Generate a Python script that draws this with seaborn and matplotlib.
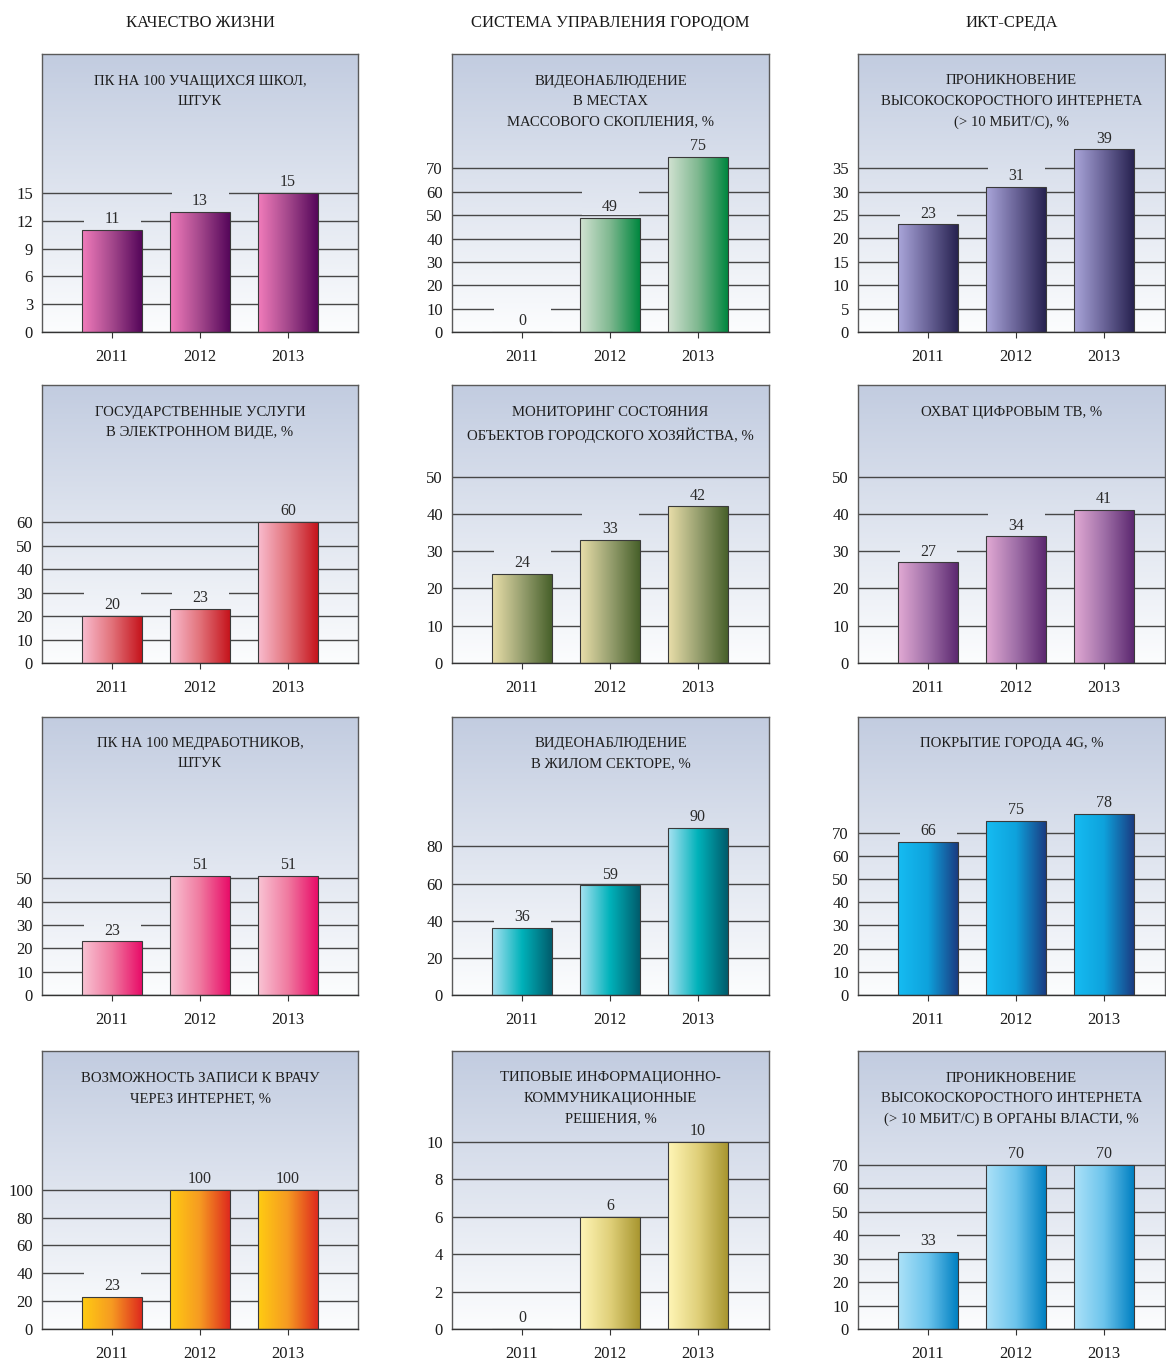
"""
Городские показатели 2011-2013: двенадцать столбчатых панелей в три колонки.
"""

import numpy as np
import matplotlib
matplotlib.use('Agg')
import matplotlib.pyplot as plt
from matplotlib.colors import LinearSegmentedColormap
from matplotlib.patches import Rectangle
import seaborn as sns

sns.set_style('white')
plt.rcParams['font.family'] = ['Liberation Serif', 'DejaVu Serif']

# ── data ──
YEARS = ['2011', '2012', '2013']

COLUMN_HEADERS = ['КАЧЕСТВО ЖИЗНИ', 'СИСТЕМА УПРАВЛЕНИЯ ГОРОДОМ', 'ИКТ-СРЕДА']

TITLES = [
    'ПК НА 100 УЧАЩИХСЯ ШКОЛ,\nШТУК',
    'ВИДЕОНАБЛЮДЕНИЕ\nВ МЕСТАХ\nМАССОВОГО СКОПЛЕНИЯ, %',
    'ПРОНИКНОВЕНИЕ\nВЫСОКОСКОРОСТНОГО ИНТЕРНЕТА\n(> 10 МБИТ/С), %',
    'ГОСУДАРСТВЕННЫЕ УСЛУГИ\nВ ЭЛЕКТРОННОМ ВИДЕ, %',
    'МОНИТОРИНГ СОСТОЯНИЯ\nОБЪЕКТОВ ГОРОДСКОГО ХОЗЯЙСТВА, %',
    'ОХВАТ ЦИФРОВЫМ ТВ, %',
    'ПК НА 100 МЕДРАБОТНИКОВ,\nШТУК',
    'ВИДЕОНАБЛЮДЕНИЕ\nВ ЖИЛОМ СЕКТОРЕ, %',
    'ПОКРЫТИЕ ГОРОДА 4G, %',
    'ВОЗМОЖНОСТЬ ЗАПИСИ К ВРАЧУ\nЧЕРЕЗ ИНТЕРНЕТ, %',
    'ТИПОВЫЕ ИНФОРМАЦИОННО-\nКОММУНИКАЦИОННЫЕ\nРЕШЕНИЯ, %',
    'ПРОНИКНОВЕНИЕ\nВЫСОКОСКОРОСТНОГО ИНТЕРНЕТА\n(> 10 МБИТ/С) В ОРГАНЫ ВЛАСТИ, %',
]

VALUES = [
    [11, 13, 15],
    [0, 49, 75],
    [23, 31, 39],
    [20, 23, 60],
    [24, 33, 42],
    [27, 34, 41],
    [23, 51, 51],
    [36, 59, 90],
    [66, 75, 78],
    [23, 100, 100],
    [0, 6, 10],
    [33, 70, 70],
]

# y ticks: (max tick, step); y axis top
TICK_MAX = [15, 70, 35, 60, 50, 50, 50, 80, 70, 100, 10, 70]
TICK_STEP = [3, 10, 5, 10, 10, 10, 10, 20, 10, 20, 2, 10]
Y_TOP = [30, 119, 59.4, 118.4, 74.6, 74.6, 119.3, 150, 120, 199.5, 14.85, 118.4]

# bar gradients, left -> right
BAR_COLORS = [
    ['#f27cbb', '#a4488c', '#55065a'],
    ['#d2e2d2', '#7fb890', '#00873f'],
    ['#aaa6da', '#6a6498', '#272250'],
    ['#f9bccf', '#e2727a', '#c5141c'],
    ['#eadfaa', '#98a070', '#47602a'],
    ['#e2aad4', '#a070a8', '#5c2870'],
    ['#f9c4d4', '#f07aa0', '#e80c68'],
    ['#a8e2f2', '#00b2ba', '#005c6c'],
    ['#16bcf2', '#0ea2dc', '#1a3c82'],
    ['#ffcc12', '#f69a22', '#de2a1e'],
    ['#fff6b6', '#e0d07a', '#a89630'],
    ['#ade2f8', '#6cc4ec', '#0080c2'],
]

# ── layout (pixels) ──
W, H = 1166, 1360
COLS = [(42, 358, 112), (452, 769, 522), (858, 1165, 928)]
ROWS = [(54, 332), (385, 663), (716.5, 995), (1051, 1329)]
PX_PER_BAR = 88.0

fig = plt.figure(figsize=(W / 100, H / 100), dpi=100)
fig.patch.set_facecolor('white')

for c, (head, (x0, x1, c0)) in enumerate(zip(COLUMN_HEADERS, COLS)):
    fig.text((x0 + x1) / 2 / W, 1 - 23 / H, head, ha='center', va='center',
             fontsize=12, color='#1a1a1a')

bg = np.linspace(0, 1, 256)[:, None]
bg_cmap = LinearSegmentedColormap.from_list('bg', ['#fcfdfe', '#c2cce0'])
grad = np.linspace(0, 1, 256)[None, :]

for i in range(12):
    r, c = divmod(i, 3)
    x0, x1, c0 = COLS[c]
    y0, y1 = ROWS[r]
    ax = fig.add_axes([x0 / W, 1 - y1 / H, (x1 - x0) / W, (y1 - y0) / H])
    ytop = Y_TOP[i]
    unit = ytop / (y1 - y0)  # data units per pixel

    sns.barplot(x=YEARS, y=VALUES[i], ax=ax, width=0.68, errorbar=None,
                color='white', saturation=1)
    bars = list(ax.patches)[:3]

    ax.set_xlim(-70 / PX_PER_BAR, 2 + (x1 - (c0 + 2 * PX_PER_BAR)) / PX_PER_BAR)
    ax.set_ylim(0, ytop)

    # panel background
    ax.imshow(bg, extent=[0, 1, 0, 1], transform=ax.transAxes, aspect='auto',
              cmap=bg_cmap, origin='lower', zorder=0, interpolation='bilinear')

    cmap = LinearSegmentedColormap.from_list(f'bar{i}', BAR_COLORS[i])
    for p, v in zip(bars, VALUES[i]):
        bx, bw = p.get_x(), p.get_width()
        p.set_facecolor('none')
        p.set_edgecolor('#3a3a3a')
        p.set_linewidth(0.8)
        p.set_zorder(3)
        if v > 0:
            im = ax.imshow(grad, extent=[bx, bx + bw, 0, v], aspect='auto',
                           cmap=cmap, zorder=2.5, interpolation='bicubic')
            im.set_clip_path(p)
        # gap in gridlines behind the value label: same background, clipped
        gap = Rectangle((bx + bw * 0.03, v + 3 * unit), bw * 0.94, 24 * unit,
                        transform=ax.transData)
        patch_bg = ax.imshow(bg, extent=[0, 1, 0, 1], transform=ax.transAxes,
                             aspect='auto', cmap=bg_cmap, origin='lower',
                             zorder=1, interpolation='bilinear')
        patch_bg.set_clip_path(gap)
        ax.annotate(str(v), (bx + bw / 2, v), xytext=(0, 2),
                    textcoords='offset points', ha='center', va='bottom',
                    fontsize=11.5, color='#2a2a2a', zorder=4)

    ax.text(0.5, 1 - 20.5 / (y1 - y0), TITLES[i], transform=ax.transAxes,
            ha='center', va='top', fontsize=10.6, linespacing=1.72,
            color='#1e1e1e', zorder=4)

    ax.set_yticks(np.arange(0, TICK_MAX[i] + TICK_STEP[i] / 2, TICK_STEP[i]))
    ax.yaxis.grid(True, color='#474747', linewidth=1.0)
    ax.xaxis.grid(False)
    ax.set_axisbelow(True)
    ax.set_xlim(-70 / PX_PER_BAR, 2 + (x1 - (c0 + 2 * PX_PER_BAR)) / PX_PER_BAR)
    ax.set_ylim(0, ytop)
    ax.set_xlabel('')
    ax.set_ylabel('')

    ax.tick_params(axis='y', length=0, pad=6.5, labelsize=12, labelcolor='#1a1a1a')
    ax.tick_params(axis='x', direction='out', length=4, width=0.8, color='#333333',
                   pad=8, labelsize=12, labelcolor='#1a1a1a', bottom=True)
    for side in ['left', 'top', 'right']:
        ax.spines[side].set_color('#5a5a5a')
        ax.spines[side].set_linewidth(1.0)
    ax.spines['bottom'].set_color('#333333')
    ax.spines['bottom'].set_linewidth(1.0)
    for s in ax.spines.values():
        s.set_visible(True)

plt.savefig('out.png', dpi=100, facecolor='white')
